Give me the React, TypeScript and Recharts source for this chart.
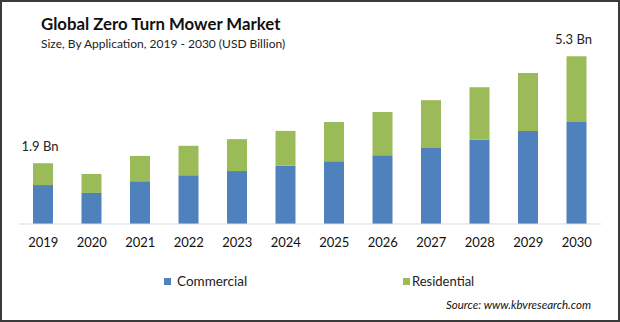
import { BarChart, Bar, XAxis, YAxis, LabelList } from 'recharts';

const years = ['2019', '2020', '2021', '2022', '2023', '2024', '2025', '2026', '2027', '2028', '2029', '2030'];
const commercial = [1.23, 0.98, 1.35, 1.54, 1.67, 1.84, 1.98, 2.17, 2.4, 2.66, 2.94, 3.22];
const residential = [0.69, 0.6, 0.8, 0.93, 1.01, 1.1, 1.24, 1.37, 1.51, 1.66, 1.83, 2.08];
const totalLabels = ['1.9 Bn', '', '', '', '', '', '', '', '', '', '', '5.3 Bn'];

const BLUE = '#4f81bd';
const GREEN = '#9bbb59';
const FONT = 'Lato, "Open Sans", sans-serif';

const data = years.map((year, i) => ({
  year,
  commercial: commercial[i],
  residential: residential[i],
  label: totalLabels[i],
}));

const TopLabel = (props: any) => {
  const { x, y, width, index } = props;
  const text = totalLabels[index];
  if (!text) return null;
  return (
    <text x={x + width / 2 - 3} y={y - 12} textAnchor="middle" fontSize={13} fill="#222" fontFamily={FONT}>
      {text}
    </text>
  );
};

const App = () => {
  return (
    <div
      style={{
        position: 'absolute',
        top: 0,
        left: 0,
        width: 620,
        height: 322,
        boxSizing: 'border-box',
        border: '2px solid #3a3a3a',
        background: '#fff',
        fontFamily: FONT,
        overflow: 'hidden',
      }}
    >
      <div style={{ position: 'absolute', left: 39, top: 11, fontSize: 16.8, fontWeight: 700, color: '#111' }}>
        Global Zero Turn Mower Market
      </div>
      <div style={{ position: 'absolute', left: 39, top: 34, fontSize: 12, color: '#222' }}>
        Size, By Application, 2019 - 2030 (USD Billion)
      </div>

      <div style={{ position: 'absolute', left: -2, top: -2 }}>
        <BarChart width={620} height={322} data={data} margin={{ top: 34, right: 19, bottom: 68, left: 19 }}>
          <YAxis hide domain={[0, 6]} />
          <XAxis
            dataKey="year"
            height={30}
            tickLine={false}
            axisLine={{ stroke: '#d9d9d9' }}
            tickMargin={8}
            tick={{ fill: '#111', fontSize: 13, fontFamily: FONT }}
            interval={0}
          />
          <Bar dataKey="commercial" stackId="a" fill={BLUE} barSize={20} isAnimationActive={false} />
          <Bar dataKey="residential" stackId="a" fill={GREEN} barSize={20} isAnimationActive={false}>
            <LabelList dataKey="label" content={TopLabel} />
          </Bar>
        </BarChart>
      </div>

      <div style={{ position: 'absolute', left: 162, top: 271, display: 'flex', alignItems: 'center', fontSize: 13.5, color: '#222' }}>
        <span style={{ width: 7, height: 7, background: BLUE, marginRight: 6 }} />
        Commercial
      </div>
      <div style={{ position: 'absolute', left: 401, top: 271, display: 'flex', alignItems: 'center', fontSize: 13, color: '#222' }}>
        <span style={{ width: 7, height: 7, background: GREEN, marginRight: 2 }} />
        Residential
      </div>
      <div style={{ position: 'absolute', left: 444, top: 296, fontSize: 11.5, fontStyle: 'italic', color: '#111' }}>
        Source: www.kbvresearch.com
      </div>
    </div>
  );
};

export default App;
